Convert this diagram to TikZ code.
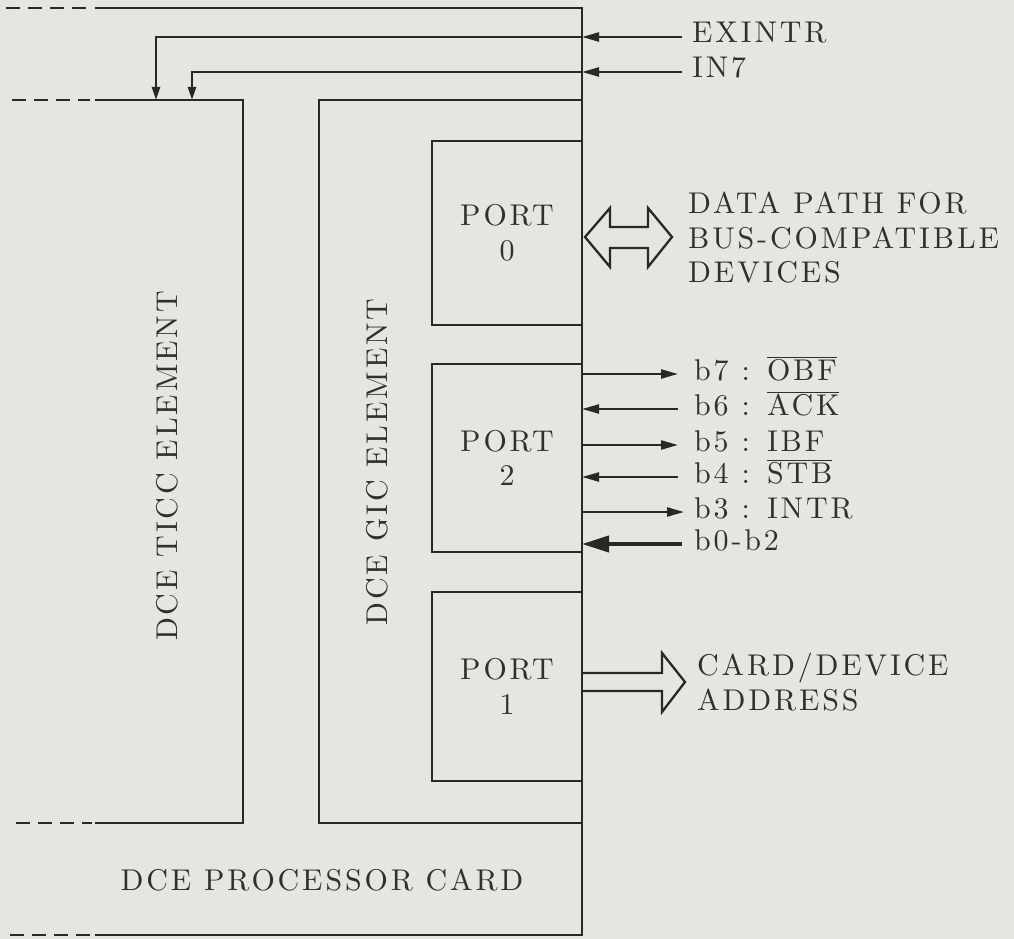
\documentclass[tikz,border=0pt]{standalone}
\usepackage{fontspec}
\usepackage{xcolor}
\usepackage{tikz}
\usetikzlibrary{arrows.meta,positioning,calc}

\setmainfont{lmroman10-regular}[Extension=.otf,LetterSpace=9.5]
\definecolor{paper}{RGB}{229,229,225}
\definecolor{ink}{RGB}{40,40,40}
\definecolor{print}{RGB}{48,48,46}
\newcommand{\barsig}[1]{$\overline{\hbox{#1}}$}

\begin{document}
\begin{tikzpicture}[x=1pt,y=-1pt,
  every node/.style={text=print,font=\fontsize{30}{34.5}\selectfont},
  wire/.style={draw=ink,line width=2.3pt},
  edgedash/.style={wire,dash pattern=on 14pt off 8pt},
  sigout/.style={wire,-{Triangle[length=17pt,width=9pt]}},
  sigin/.style={wire,-{Triangle[length=17pt,width=9pt]}},
  sigbus/.style={draw=ink,line width=4pt,-{Triangle[length=27pt,width=16pt]}},
  drop/.style={wire,-{Triangle[length=13pt,width=8pt]}},
  portbox/.style={wire,minimum width=150pt,align=center,inner sep=0pt},
  sigtext/.style={anchor=west,inner sep=0pt,text height=16pt,text depth=4pt},
  hollow/.style={draw=ink,line width=2.3pt,line join=miter}]
  \fill[paper] (0,0) rectangle (1014,939);
  \useasboundingbox (0,0) rectangle (1014,939);

  % processor card
  \coordinate (cardNE) at (582,8);
  \coordinate (cardSE) at (582,935);
  \draw[wire] (95,8) -- (cardNE) -- (cardSE) -- (95,935);
  \draw[edgedash] (6,8) -- (90,8);
  \draw[edgedash] (10,935) -- (90,935);

  % TICC element
  \draw[wire] (95,100) -- (243,100) -- (243,823) -- (95,823);
  \draw[edgedash] (12,100) -- (90,100);
  \draw[edgedash] (16,823) -- (92,823);
  \coordinate (ticcA) at (156,100);
  \coordinate (ticcB) at (192,100);

  % GIC element
  \draw[wire] (582,100) -- (319,100) -- (319,823) -- (582,823);

  % ports
  \node[portbox,minimum height=184pt] (port0) at (507,233) {PORT\\0};
  \node[portbox,minimum height=188pt] (port2) at (507,458) {PORT\\2};
  \node[portbox,minimum height=189pt] (port1) at (507,686.5) {PORT\\1};

  % interrupt inputs
  \node[sigtext] (exintr) at (692,37) {EXINTR};
  \node[sigtext] (in7) at (692,72) {IN7};
  \draw[sigin] ([xshift=-10pt]exintr.west) -- (exintr -| cardNE);
  \draw[sigin] ([xshift=-10pt]in7.west) -- (in7 -| cardNE);
  \draw[drop] (exintr -| cardNE) -| (ticcA);
  \draw[drop] (in7 -| cardNE) -| (ticcB);

  % port 0 data path
  \draw[hollow] (585,237) -- (610,208) -- (610,227) -- (648,227) -- (648,208)
    -- (672,237) -- (648,267) -- (648,248) -- (610,248) -- (610,267) -- cycle;
  \node[sigtext,align=left,text height=,text depth=] (datapath) at (688,238)
    {DATA PATH FOR\\BUS-COMPATIBLE\\DEVICES};

  % port 2 control lines
  \node[sigtext] (b7) at (694,374) {b7 : \barsig{OBF}};
  \node[sigtext] (b6) at (694,409) {b6 : \barsig{ACK}};
  \node[sigtext] (b5) at (694,445) {b5 : IBF};
  \node[sigtext] (b4) at (694,477) {b4 : \barsig{STB}};
  \node[sigtext] (b3) at (694,512) {b3 : INTR};
  \node[sigtext] (b02) at (694,544) {b0-b2};
  \draw[sigout] (b7 -| cardNE) -- ([xshift=-16pt]b7.west);
  \draw[sigin] ([xshift=-16pt]b6.west) -- (b6 -| cardNE);
  \draw[sigout] (b5 -| cardNE) -- ([xshift=-16pt]b5.west);
  \draw[sigin] ([xshift=-16pt]b4.west) -- (b4 -| cardNE);
  \draw[sigout] (b3 -| cardNE) -- ([xshift=-10pt]b3.west);
  \draw[sigbus] ([xshift=-12pt]b02.west) -- (b02 -| cardNE);

  % port 1 address
  \draw[hollow] (582,673) -- (662,673) -- (662,653) -- (685,682) -- (662,712)
    -- (662,691) -- (582,691);
  \node[sigtext,align=left,text height=,text depth=] (addr) at (697,682)
    {CARD/DEVICE\\ADDRESS};

  % element labels
  \node[rotate=90] (ticclbl) at (167,466) {DCE TICC ELEMENT};
  \node[rotate=90] (giclbl) at (377,462) {DCE GIC ELEMENT};
  \node (cardlbl) at (322,880) {DCE PROCESSOR CARD};
\end{tikzpicture}
\end{document}
